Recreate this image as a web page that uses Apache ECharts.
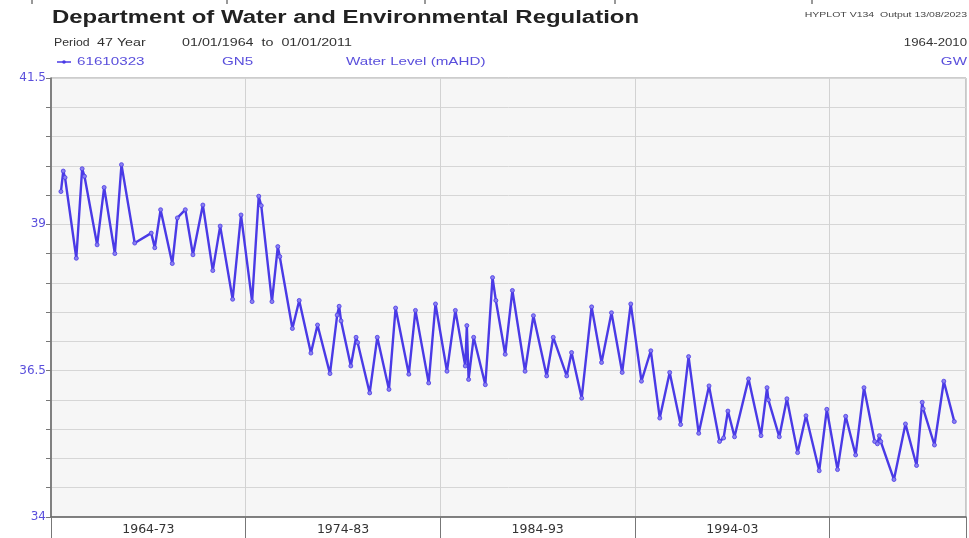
<!DOCTYPE html>
<html>
<head>
<meta charset="utf-8">
<script src="https://cdn.jsdelivr.net/npm/echarts@6/dist/echarts.min.js"></script>
<style>
html,body{margin:0;padding:0;background:#fff;}
#c{width:969px;height:538px;}
</style>
</head>
<body>
<div id="c"></div>
<script>
// decimal year of each reading
var years = [1964.51,1964.63,1964.72,1965.30,1965.60,1965.72,1966.37,1966.73,1967.28,1967.62,1968.30,1969.15,1969.33,1969.63,1970.23,1970.49,1970.90,1971.29,1971.80,1972.31,1972.69,1973.33,1973.76,1974.33,1974.67,1974.80,1975.35,1975.65,1975.75,1976.40,1976.75,1977.35,1977.69,1978.33,1978.70,1978.80,1978.90,1979.40,1979.67,1979.75,1980.37,1980.76,1981.36,1981.70,1982.38,1982.72,1983.40,1983.75,1984.34,1984.77,1985.28,1985.36,1985.45,1985.71,1986.31,1986.68,1986.85,1987.33,1987.70,1988.35,1988.78,1989.46,1989.80,1990.49,1990.74,1991.26,1991.77,1992.28,1992.79,1993.34,1993.78,1994.33,1994.81,1995.27,1995.78,1996.34,1996.75,1997.27,1997.80,1998.34,1998.55,1998.77,1999.11,1999.83,2000.47,2000.78,2000.85,2001.41,2001.80,2002.35,2002.78,2003.46,2003.85,2004.40,2004.82,2005.33,2005.76,2006.31,2006.45,2006.55,2006.62,2007.30,2007.89,2008.46,2008.75,2008.80,2009.38,2009.86,2010.40];
// water level (mAHD)
var levels = [39.56,39.91,39.80,38.42,39.95,39.82,38.65,39.63,38.50,40.02,38.68,38.85,38.60,39.25,38.33,39.11,39.25,38.48,39.33,38.21,38.97,37.72,39.16,37.68,39.48,39.32,37.68,38.62,38.45,37.22,37.70,36.80,37.28,36.45,37.45,37.60,37.35,36.58,37.07,36.98,36.12,37.07,36.18,37.57,36.44,37.53,36.29,37.64,36.49,37.53,36.58,37.27,36.35,37.07,36.26,38.09,37.70,36.78,37.87,36.49,37.44,36.41,37.07,36.41,36.81,36.03,37.59,36.64,37.49,36.47,37.64,36.32,36.84,35.69,36.47,35.58,36.74,35.43,36.24,35.29,35.35,35.81,35.37,36.36,35.39,36.21,36.00,35.37,36.02,35.10,35.73,34.79,35.84,34.81,35.72,35.06,36.21,35.29,35.25,35.39,35.29,34.64,35.59,34.88,35.96,35.85,35.23,36.32,35.63];
var yLabelValues = [34, 36.5, 39, 41.5];
var xLabelYears = [1969, 1979, 1989, 1999];
var xLabels = ['1964-73', '1974-83', '1984-93', '1994-03'];
var topStripLabels = ['1971-80', '1981-90', '1991-00', '2001-10'];

var seriesData = years.map(function (y, i) { return [y, levels[i]]; });
var BLUE = '#5a4fdc';
var LINE = '#4a3ae6';
var FONT = '"Liberation Sans", Arial, sans-serif';
var AXFONT = '"DejaVu Sans", sans-serif';
var SX = 1.38; // the reference's lettering is drawn wide

var chart = echarts.init(document.getElementById('c'), null, {renderer: 'canvas'});

function txt(x, y, text, font, fill, align, sx) {
  return {type: 'text', x: x, y: y, scaleX: sx || SX,
    style: {text: text, font: font, fill: fill, align: align || 'left', verticalAlign: 'middle'}};
}

var graphics = [];
// cut-off strip from the chart above
var stripX = [123, 323, 515, 714];
topStripLabels.forEach(function (t, i) {
  graphics.push(txt(stripX[i], -3, t, '11px ' + FONT, '#333', 'center'));
});
[32, 227, 425, 615, 812].forEach(function (x) {
  graphics.push({type: 'line', shape: {x1: x, y1: 0, x2: x, y2: 4}, style: {stroke: '#333', lineWidth: 1}});
});
graphics.push(
  txt(52, 18, 'Department of Water and Environmental Regulation', 'bold 18px ' + FONT, '#222', 'left', 1.33),
  txt(967, 15, 'HYPLOT V134  Output 13/08/2023', '7px ' + FONT, '#444', 'right', 1.5),
  txt(54, 43, 'Period', '11px ' + FONT, '#333', 'left', 1.12),
  txt(97, 43, '47 Year', '11px ' + FONT, '#333', 'left', 1.3),
  txt(182, 43, '01/01/1964  to  01/01/2011', '11px ' + FONT, '#333', 'left', 1.3),
  txt(967, 43, '1964-2010', '11px ' + FONT, '#333', 'right', 1.2),
  {type: 'line', shape: {x1: 57, y1: 62, x2: 71, y2: 62}, style: {stroke: LINE, lineWidth: 1.5}},
  {type: 'circle', shape: {cx: 64, cy: 62, r: 1.8}, style: {fill: LINE}},
  txt(77, 62, '61610323', '11px ' + FONT, BLUE),
  txt(222, 62, 'GN5', '11px ' + FONT, BLUE),
  txt(346, 62, 'Water Level (mAHD)', '11px ' + FONT, BLUE),
  txt(967, 62, 'GW', '11px ' + FONT, BLUE, 'right')
);

chart.setOption({
  animation: false,
  backgroundColor: '#fff',
  graphic: graphics,
  grid: {left: 51, right: 1, top: 78, bottom: 21, show: true, backgroundColor: '#f6f6f6', borderColor: '#9a9a9a', borderWidth: 1},
  xAxis: [{
    type: 'value', min: 1964, max: 2011, interval: 10,
    axisLine: {lineStyle: {color: '#666', width: 1.5}},
    axisTick: {show: true, length: 21, lineStyle: {color: '#777', width: 1}},
    axisLabel: {show: false},
    splitLine: {show: true, lineStyle: {color: '#d2d2d2', width: 1}}
  }, {
    type: 'value', min: 1964, max: 2011, interval: 5, position: 'bottom',
    axisLine: {show: false}, axisTick: {show: false}, splitLine: {show: false},
    axisLabel: {
      margin: 6, color: '#333', fontSize: 12.5, fontFamily: AXFONT,
      formatter: function (v) { var k = xLabelYears.indexOf(v); return k >= 0 ? xLabels[k] : ''; }
    }
  }],
  yAxis: {
    type: 'value', min: 34, max: 41.5, interval: 0.5,
    axisLine: {show: true, lineStyle: {color: '#666', width: 1.5}},
    axisTick: {show: true, length: 5, lineStyle: {color: '#777'}},
    axisLabel: {
      margin: 5, color: BLUE, fontSize: 12, fontFamily: AXFONT,
      formatter: function (v) { return yLabelValues.indexOf(v) >= 0 ? String(v) : ''; }
    },
    splitLine: {show: true, lineStyle: {color: '#d6d6d6', width: 1}}
  },
  series: [{
    type: 'line', xAxisIndex: 0, data: seriesData,
    symbol: 'circle', symbolSize: 4, showSymbol: true,
    lineStyle: {color: LINE, width: 2.4},
    itemStyle: {color: '#8a80f0', borderColor: LINE, borderWidth: 0.8}
  }]
});
</script>
</body>
</html>
